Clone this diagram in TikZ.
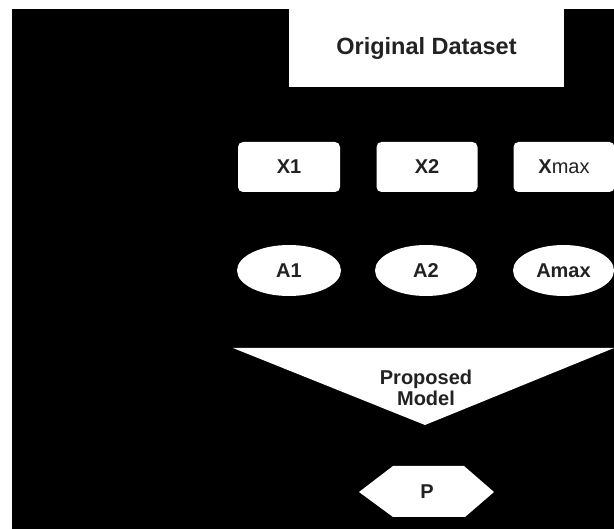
\documentclass[tikz,border=0pt]{standalone}
\usepackage{fontspec}
\setmainfont{Liberation Sans}
\usetikzlibrary{shapes.geometric}
\definecolor{txt}{HTML}{222222}
\begin{document}
\begin{tikzpicture}[x=1pt,y=-1pt,
  lbl/.style={font=\fontsize{20}{21}\selectfont\bfseries, text=txt, align=center, inner sep=0pt},
  xbox/.style={fill=white, rounded corners=5pt, minimum height=50pt, inner sep=0pt},
  abox/.style={ellipse, fill=white, minimum height=51pt, inner sep=0pt}]
\useasboundingbox (0,0) rectangle (614,529);
\fill[white] (0,0) rectangle (614,529);
\fill[black] (12,9) rectangle (614,529);
% Original dataset
\node[fill=white, minimum width=275pt, minimum height=78pt, inner sep=0pt] (orig) at (426.5,48) {};
\node[lbl, font=\fontsize{23.5}{25}\selectfont\bfseries] (origt) at (426.5,48) {Original Dataset};
% X row
\node[xbox, minimum width=102pt] (x1) at (289,167) {};
\node[lbl] (x1t) at (x1) {X1};
\node[xbox, minimum width=101pt] (x2) at (427,167) {};
\node[lbl] (x2t) at (x2) {X2};
\node[xbox, minimum width=101pt] (xm) at (564,167) {};
\node[lbl] (xmt) at (xm) {X\textmd{max}};
% A row
\node[abox, minimum width=104pt] (a1) at (289,270.5) {};
\node[lbl] (a1t) at (a1) {A1};
\node[abox, minimum width=102pt] (a2) at (426,270.5) {};
\node[lbl] (a2t) at (a2) {A2};
\node[abox, minimum width=101pt] (am) at (563.5,270.5) {};
\node[lbl] (amt) at (am) {Amax};
% Proposed model triangle
\fill[white] (233,348) -- (614,348) -- (425,425) -- cycle;
\node[lbl] (model) at (426,388) {Proposed\\Model};
% Hexagon P
\fill[white] (359,492) -- (393,466) -- (464,466) -- (494,492) -- (465,517) -- (393,517) -- cycle;
\node[lbl] (p) at (427,492) {P};
\end{tikzpicture}
\end{document}
